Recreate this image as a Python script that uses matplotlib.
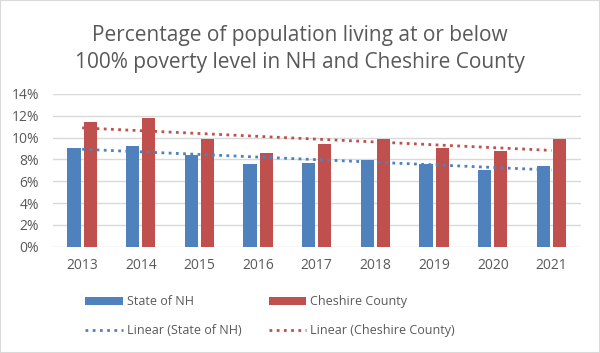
import numpy as np
import matplotlib
matplotlib.use("Agg")
import matplotlib.pyplot as plt
from matplotlib.patches import Rectangle

# DATA
years = ["2013", "2014", "2015", "2016", "2017", "2018", "2019", "2020", "2021"]
state_nh = [9.0, 9.2, 8.4, 7.6, 7.7, 7.9, 7.6, 7.0, 7.4]
cheshire = [11.4, 11.8, 9.9, 8.6, 9.4, 9.9, 9.0, 8.8, 9.9]
yticks = [0, 2, 4, 6, 8, 10, 12, 14]

blue = "#4f81bd"
red = "#c0504d"
gray = "#595959"

plt.rcParams["font.family"] = ["Open Sans", "DejaVu Sans"]

fig = plt.figure(figsize=(6, 3.53), dpi=100)
ax = fig.add_axes([0.088, 0.301, 0.880, 0.433])

x = np.arange(len(years))
w = 0.225
b1 = ax.bar(x - w / 2 - 0.025, state_nh, w, color=blue, zorder=3)
b2 = ax.bar(x + w / 2 + 0.025, cheshire, w, color=red, zorder=3)

# TRENDLINES (linear fit)
p1 = np.polyfit(x, state_nh, 1)
p2 = np.polyfit(x, cheshire, 1)
l1, = ax.plot(x, np.polyval(p1, x), color=blue, ls=(0, (1, 1.6)), lw=2, zorder=4)
l2, = ax.plot(x, np.polyval(p2, x), color=red, ls=(0, (1, 1.6)), lw=2, zorder=4)

ax.set_xlim(-0.5, len(years) - 0.5)
ax.set_ylim(0, 14)
ax.set_yticks(yticks)
ax.set_yticklabels([f"{t}%" for t in yticks])
ax.set_xticks(x)
ax.set_xticklabels(years)
ax.tick_params(length=0, labelsize=10, labelcolor=gray)
ax.tick_params(axis="y", pad=10)
ax.tick_params(axis="x", pad=8)
ax.grid(axis="y", color="#d9d9d9", lw=1, zorder=0)
for s in ax.spines.values():
    s.set_visible(False)

fig.text(0.5, 0.862, "Percentage of population living at or below\n100% poverty level in NH and Cheshire County",
         ha="center", va="center", fontsize=15, color=gray, linespacing=1.35)

# column-wise fill: bars on top row, trendlines below
fig.legend([b1, l1, b2, l2],
           ["State of NH", "Linear (State of NH)", "Cheshire County", "Linear (Cheshire County)"],
           ncol=2, loc="center", bbox_to_anchor=(0.45, 0.105), frameon=False,
           fontsize=9, labelcolor=gray, handlelength=3.0, handleheight=0.6,
           columnspacing=2.2, labelspacing=1.25, handletextpad=0.3)

fig.patches.append(Rectangle((0, 0), 1, 1, transform=fig.transFigure, fill=False,
                             edgecolor="#d9d9d9", lw=1.5))

plt.savefig("out.png")
plt.close()
